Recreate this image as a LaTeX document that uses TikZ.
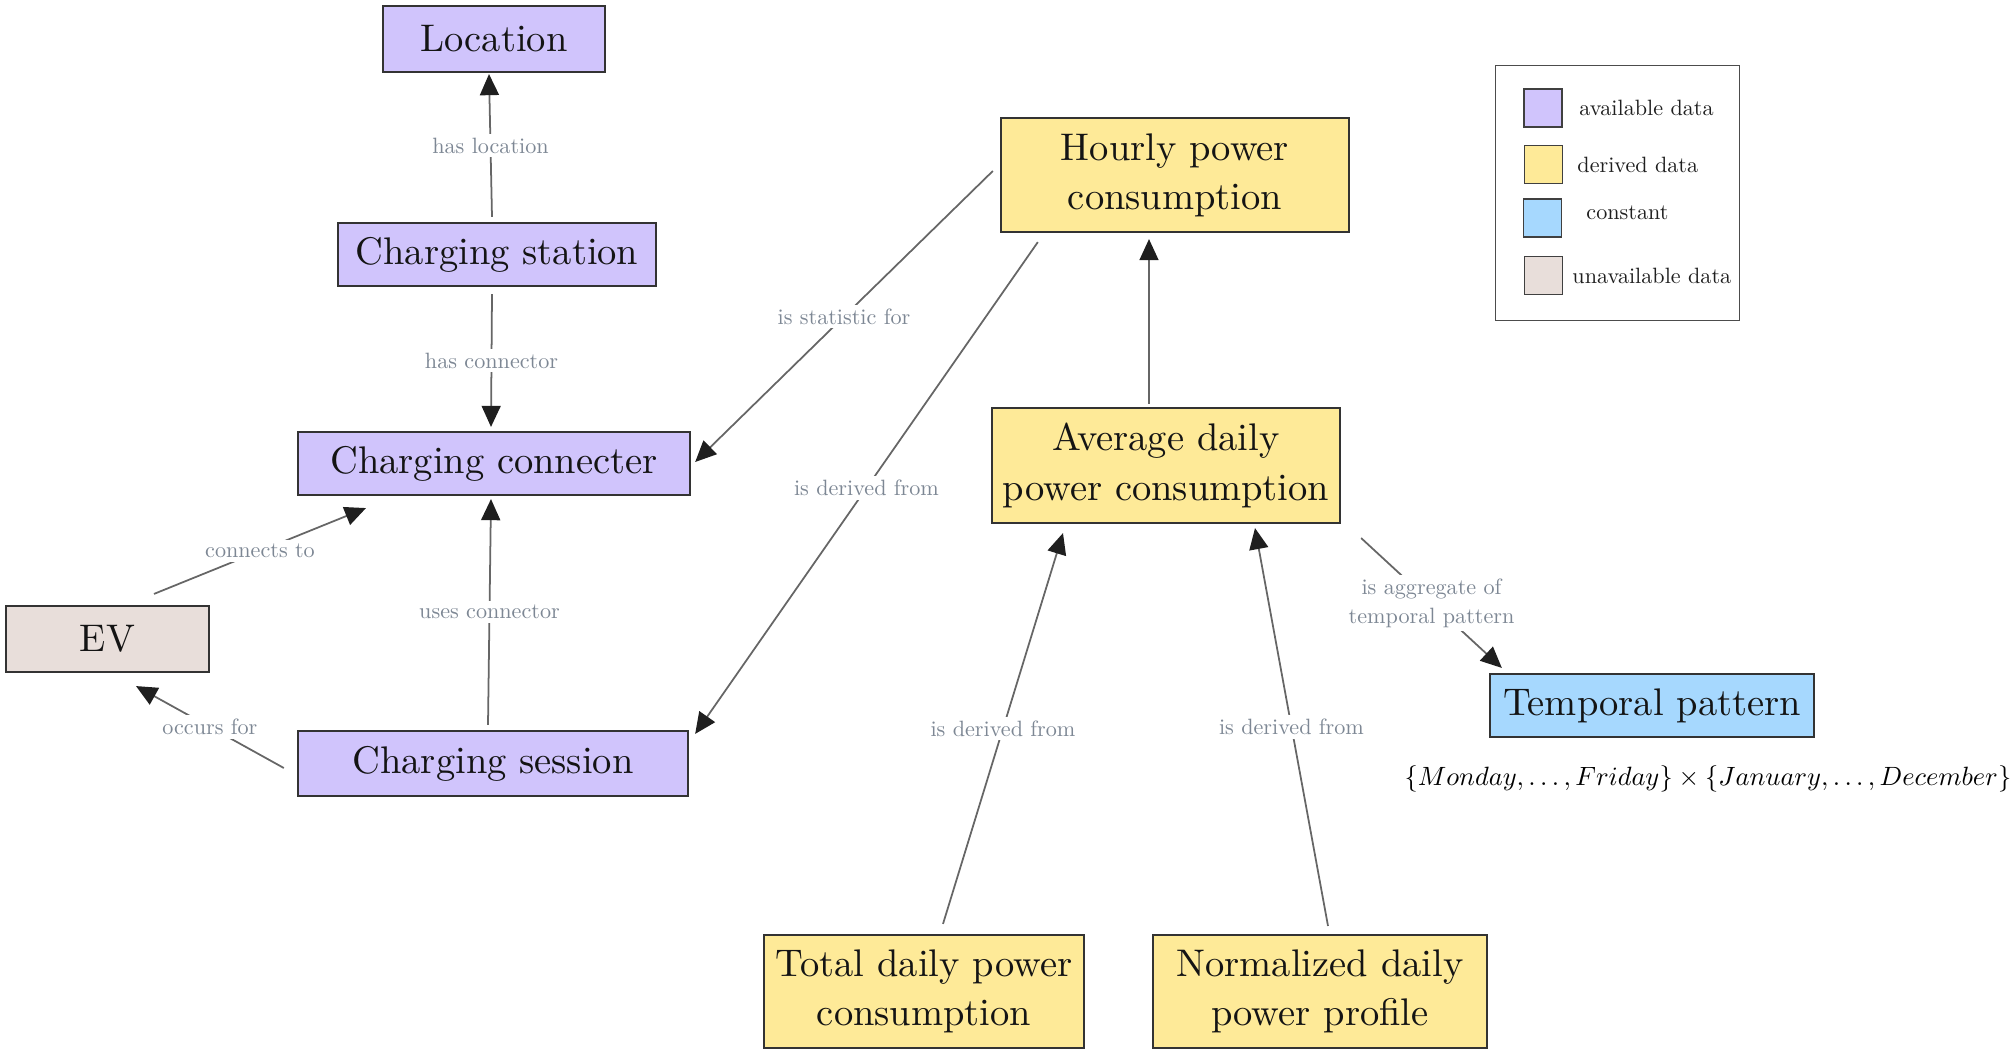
\documentclass[tikz,border=0pt]{standalone}
\usetikzlibrary{arrows.meta,calc}
\definecolor{avail}{RGB}{208,196,252}
\definecolor{deriv}{RGB}{254,234,152}
\definecolor{constc}{RGB}{166,216,254}
\definecolor{unavail}{RGB}{232,222,218}
\definecolor{lbl}{RGB}{125,135,148}
\begin{document}
\begin{tikzpicture}[x=0.01cm,y=-0.01cm,
 box/.style={draw=black!80,line width=0.6pt,inner sep=0pt,align=center,font=\fontsize{10.95}{14}\selectfont,text=black!92},
 conn/.style={draw=black!60,line width=0.5pt,-{Triangle[length=6pt,width=5.4pt,color=black!88]}},
 lab/.style={fill=white,text=lbl,font=\fontsize{10}{13}\selectfont,inner sep=1.8pt,align=center,scale=0.63,transform shape},
 sq/.style={draw=black!75,line width=0.5pt,minimum size=0.38cm,inner sep=0pt},
 legt/.style={font=\fontsize{10}{12}\selectfont,inner sep=0pt,anchor=west,text=black!88,scale=0.63,transform shape}]
\useasboundingbox (0,0) rectangle (2014,1055);
% nodes
\node[box,fill=avail,minimum width=2.22cm,minimum height=0.66cm] (loc) at (494,39) {Location};
\node[box,fill=avail,minimum width=3.18cm,minimum height=0.63cm] (st) at (497,254.5) {Charging station};
\node[box,fill=avail,minimum width=3.92cm,minimum height=0.63cm] (con) at (494,463.5) {Charging connecter};
\node[box,fill=unavail,minimum width=2.03cm,minimum height=0.66cm] (ev) at (107.5,639) {EV};
\node[box,fill=avail,minimum width=3.90cm,minimum height=0.65cm] (ses) at (493,763.5) {Charging session};
\node[box,fill=deriv,minimum width=3.48cm,minimum height=1.14cm] (hr) at (1175,175) {Hourly power\\consumption};
\node[box,fill=deriv,minimum width=3.48cm,minimum height=1.15cm] (avg) at (1166,465.5) {Average daily\\power consumption};
\node[box,fill=constc,minimum width=3.24cm,minimum height=0.63cm] (tp) at (1652,705.5) {Temporal pattern};
\node[box,fill=deriv,minimum width=3.20cm,minimum height=1.13cm] (tot) at (924,991.5) {Total daily power\\consumption};
\node[box,fill=deriv,minimum width=3.34cm,minimum height=1.13cm] (nor) at (1320,991.5) {Normalized daily\\power profile};
\node[font=\fontsize{10}{12}\selectfont,inner sep=0pt,scale=0.752,transform shape] (form) at (1708,779) {$\{Monday,\ldots,Friday\}\times\{January,\ldots,December\}$};
% legend
\node[draw=black!70,line width=0.5pt,minimum width=2.44cm,minimum height=2.55cm,inner sep=0pt] (leg) at (1617.5,193) {};
\node[sq,fill=avail] (s1) at (1543,108) {};
\node[sq,fill=deriv] (s2) at (1543.5,164.5) {};
\node[sq,fill=constc] (s3) at (1542.5,218) {};
\node[sq,fill=unavail] (s4) at (1543.5,275.5) {};
\node[legt] (t1) at (1579,108) {available data};
\node[legt] (t2) at (1577,165) {derived data};
\node[legt] (t3) at (1586,213) {constant};
\node[legt] (t4) at (1572,276) {unavailable data};
% connectors
\draw[conn] ($(st.north)+(-5,-5)$) -- node[lab]{has location} ($(loc.south)+(-5,1)$);
\draw[conn] ($(st.south)+(-5,7)$) -- node[lab]{has connector} ($(con.north)+(-3,-4)$);
\draw[conn] ($(ev.north)+(46.5,-11)$) -- node[lab]{connects to} ($(con.south)+(-128,12)$);
\draw[conn] ($(ses.west)+(-13,4.5)$) -- node[lab]{occurs for} ($(ev.south)+(28.5,13)$);
\draw[conn] ($(ses.north)+(-5,-5)$) -- node[lab]{uses connector} ($(con.south)+(-3,3)$);
\draw[conn] ($(hr.west)+(-7,-4)$) -- node[lab]{is statistic for} ($(con.east)+(4,-1.5)$);
\draw[conn] ($(hr.south west)+(38,9)$) -- node[lab]{is derived from} ($(ses.north east)+(6,4)$);
\draw[conn] ($(avg.north)+(-17,-3)$) -- ($(hr.south)+(-26,6)$);
\draw[conn] ($(avg.south east)+(20,14)$) -- node[lab]{is aggregate of\\temporal pattern} ($(tp.north west)+(13,-5)$);
\draw[conn] ($(tot.north)+(19,-10)$) -- node[lab]{is derived from} ($(avg.south)+(-103,9)$);
\draw[conn] ($(nor.north)+(8,-8)$) -- node[lab]{is derived from} ($(avg.south)+(89,4)$);
\end{tikzpicture}
\end{document}
